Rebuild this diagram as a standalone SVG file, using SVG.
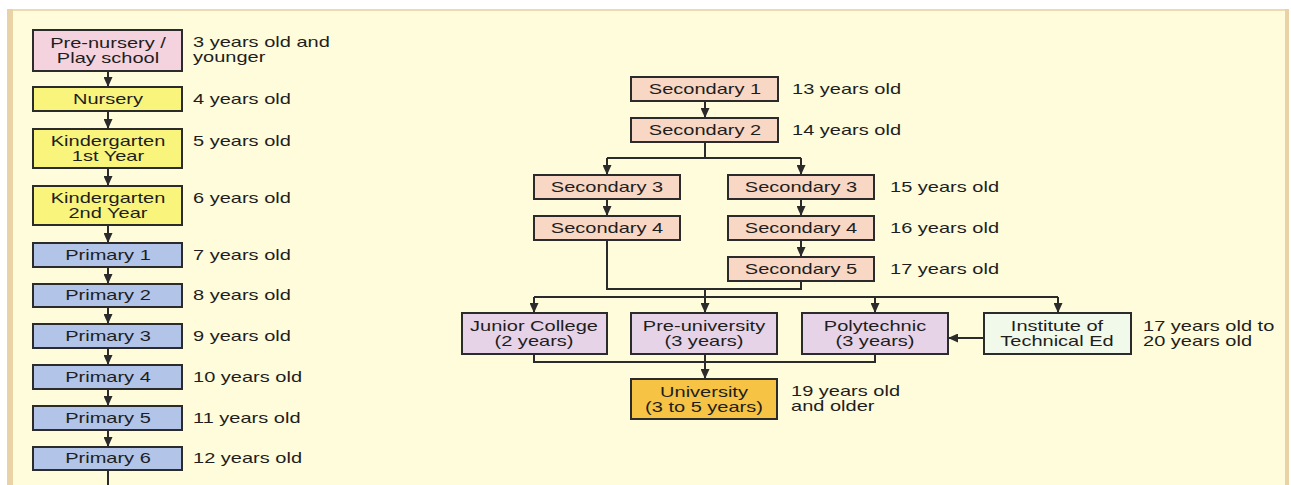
<svg xmlns="http://www.w3.org/2000/svg" width="1291" height="485" viewBox="0 0 1291 485">
<style>
text{font-family:"Liberation Sans",Arial,sans-serif;font-size:14px;fill:#1e1e1e}
.c{text-anchor:middle}
.box{stroke:#2b2b2b;stroke-width:2}
.pink{fill:#F4D3DF}.yel{fill:#F9F57C}.blue{fill:#B2C5E8}.peach{fill:#F9D7C5}.lav{fill:#E7D3E7}.grn{fill:#F1F9EA}.uni{fill:#F6C345}
.ln{fill:none;stroke:#2b2b2b;stroke-width:2}
.ar{fill:none;stroke:#2b2b2b;stroke-width:2;marker-end:url(#ah)}
</style>
<defs>
<marker id="ah" markerUnits="userSpaceOnUse" markerWidth="10" markerHeight="9" refX="10" refY="4.5" orient="auto">
<path d="M0,0 L10,4.5 L0,9 z" fill="#2b2b2b"/>
</marker>
</defs>
<rect x="0" y="0" width="1291" height="485" fill="#ffffff"/>
<rect x="7" y="9" width="1282" height="476" fill="#FEFCDA"/>
<rect x="7" y="9" width="1282" height="2" fill="#EADBB2"/>
<rect x="7" y="9" width="6" height="476" fill="#E9D2A6"/>
<rect x="1285" y="9" width="4" height="476" fill="#E9D2A6"/>

<g id="connectors">
<path class="ar" d="M108,71 V87"/>
<path class="ar" d="M108,111 V129"/>
<path class="ar" d="M108,168 V186"/>
<path class="ar" d="M108,225 V243"/>
<path class="ar" d="M108,267 V284"/>
<path class="ar" d="M108,307 V324"/>
<path class="ar" d="M108,348 V365"/>
<path class="ar" d="M108,389 V406"/>
<path class="ar" d="M108,430 V447"/>
<path class="ln" d="M108,470 V485"/>
<path class="ar" d="M705,101 V118"/>
<path class="ln" d="M705,142 V158 M607,158 H801"/>
<path class="ar" d="M607,158 V175"/>
<path class="ar" d="M801,158 V175"/>
<path class="ar" d="M607,199 V216"/>
<path class="ar" d="M801,199 V216"/>
<path class="ar" d="M801,240 V257"/>
<path class="ln" d="M607,240 V289 H801 V281 M705,289 V297 M534,297 H1058"/>
<path class="ar" d="M534,297 V313"/>
<path class="ar" d="M705,297 V313"/>
<path class="ar" d="M875,297 V313"/>
<path class="ar" d="M1058,297 V313"/>
<path class="ar" d="M984,338 H948"/>
<path class="ln" d="M534,354 V362 H875 V354"/>
<path class="ar" d="M705,354 V379"/>
</g>

<g id="pre-nursery"><rect class="box pink" x="33" y="30" width="149" height="41"/>
<text class="c" transform="translate(108 48) scale(1.43 1)">Pre-nursery /</text>
<text class="c" transform="translate(108 63) scale(1.43 1)">Play school</text></g>
<g id="nursery"><rect class="box yel" x="33" y="87" width="149" height="24"/>
<text class="c" transform="translate(108 104) scale(1.43 1)">Nursery</text></g>
<g id="kindergarten-1"><rect class="box yel" x="33" y="129" width="149" height="39"/>
<text class="c" transform="translate(108 146) scale(1.43 1)">Kindergarten</text>
<text class="c" transform="translate(108 161) scale(1.43 1)">1st Year</text></g>
<g id="kindergarten-2"><rect class="box yel" x="33" y="186" width="149" height="39"/>
<text class="c" transform="translate(108 203) scale(1.43 1)">Kindergarten</text>
<text class="c" transform="translate(108 218) scale(1.43 1)">2nd Year</text></g>
<g id="primary-1"><rect class="box blue" x="33" y="243" width="149" height="24"/>
<text class="c" transform="translate(108 260) scale(1.43 1)">Primary 1</text></g>
<g id="primary-2"><rect class="box blue" x="33" y="284" width="149" height="23"/>
<text class="c" transform="translate(108 300) scale(1.43 1)">Primary 2</text></g>
<g id="primary-3"><rect class="box blue" x="33" y="324" width="149" height="24"/>
<text class="c" transform="translate(108 341) scale(1.43 1)">Primary 3</text></g>
<g id="primary-4"><rect class="box blue" x="33" y="365" width="149" height="24"/>
<text class="c" transform="translate(108 382) scale(1.43 1)">Primary 4</text></g>
<g id="primary-5"><rect class="box blue" x="33" y="406" width="149" height="24"/>
<text class="c" transform="translate(108 423) scale(1.43 1)">Primary 5</text></g>
<g id="primary-6"><rect class="box blue" x="33" y="447" width="149" height="23"/>
<text class="c" transform="translate(108 463) scale(1.43 1)">Primary 6</text></g>

<g id="secondary-1"><rect class="box peach" x="631" y="77" width="147" height="24"/>
<text class="c" transform="translate(705 94) scale(1.43 1)">Secondary 1</text></g>
<g id="secondary-2"><rect class="box peach" x="631" y="118" width="147" height="24"/>
<text class="c" transform="translate(705 135) scale(1.43 1)">Secondary 2</text></g>
<g id="secondary-3a"><rect class="box peach" x="534" y="175" width="146" height="24"/>
<text class="c" transform="translate(607 192) scale(1.43 1)">Secondary 3</text></g>
<g id="secondary-3b"><rect class="box peach" x="728" y="175" width="146" height="24"/>
<text class="c" transform="translate(801 192) scale(1.43 1)">Secondary 3</text></g>
<g id="secondary-4a"><rect class="box peach" x="534" y="216" width="146" height="24"/>
<text class="c" transform="translate(607 233) scale(1.43 1)">Secondary 4</text></g>
<g id="secondary-4b"><rect class="box peach" x="728" y="216" width="146" height="24"/>
<text class="c" transform="translate(801 233) scale(1.43 1)">Secondary 4</text></g>
<g id="secondary-5"><rect class="box peach" x="728" y="257" width="146" height="24"/>
<text class="c" transform="translate(801 274) scale(1.43 1)">Secondary 5</text></g>
<g id="junior-college"><rect class="box lav" x="462" y="313" width="145" height="41"/>
<text class="c" transform="translate(534 331) scale(1.43 1)">Junior College</text>
<text class="c" transform="translate(534 346) scale(1.43 1)">(2 years)</text></g>
<g id="pre-university"><rect class="box lav" x="631" y="313" width="146" height="41"/>
<text class="c" transform="translate(704 331) scale(1.43 1)">Pre-university</text>
<text class="c" transform="translate(704 346) scale(1.43 1)">(3 years)</text></g>
<g id="polytechnic"><rect class="box lav" x="802" y="313" width="146" height="41"/>
<text class="c" transform="translate(875 331) scale(1.43 1)">Polytechnic</text>
<text class="c" transform="translate(875 346) scale(1.43 1)">(3 years)</text></g>
<g id="ite"><rect class="box grn" x="984" y="313" width="147" height="41"/>
<text class="c" transform="translate(1057 331) scale(1.43 1)">Institute of</text>
<text class="c" transform="translate(1057 346) scale(1.43 1)">Technical Ed</text></g>
<g id="university"><rect class="box uni" x="631" y="379" width="146" height="40"/>
<text class="c" transform="translate(704 397) scale(1.43 1)">University</text>
<text class="c" transform="translate(704 412) scale(1.43 1)">(3 to 5 years)</text></g>

<g id="age-labels">
<text transform="translate(193 47) scale(1.43 1)">3 years old and</text>
<text transform="translate(193 62) scale(1.43 1)">younger</text>
<text transform="translate(193 104) scale(1.43 1)">4 years old</text>
<text transform="translate(193 146) scale(1.43 1)">5 years old</text>
<text transform="translate(193 203) scale(1.43 1)">6 years old</text>
<text transform="translate(193 260) scale(1.43 1)">7 years old</text>
<text transform="translate(193 300) scale(1.43 1)">8 years old</text>
<text transform="translate(193 341) scale(1.43 1)">9 years old</text>
<text transform="translate(193 382) scale(1.43 1)">10 years old</text>
<text transform="translate(193 423) scale(1.43 1)">11 years old</text>
<text transform="translate(193 463) scale(1.43 1)">12 years old</text>
<text transform="translate(792 94) scale(1.43 1)">13 years old</text>
<text transform="translate(792 135) scale(1.43 1)">14 years old</text>
<text transform="translate(890 192) scale(1.43 1)">15 years old</text>
<text transform="translate(890 233) scale(1.43 1)">16 years old</text>
<text transform="translate(890 274) scale(1.43 1)">17 years old</text>
<text transform="translate(1143 331) scale(1.43 1)">17 years old to</text>
<text transform="translate(1143 346) scale(1.43 1)">20 years old</text>
<text transform="translate(791 396) scale(1.43 1)">19 years old</text>
<text transform="translate(791 411) scale(1.43 1)">and older</text>
</g>
</svg>
